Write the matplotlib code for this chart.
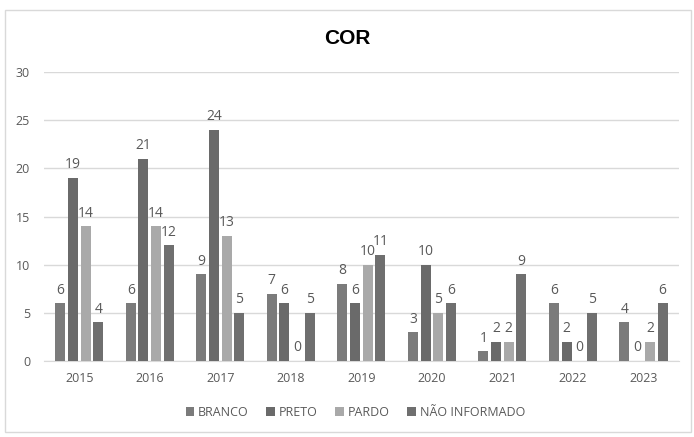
import numpy as np
from matplotlib import pyplot as plt
from matplotlib.patches import Rectangle

anos = ["2015", "2016", "2017", "2018", "2019", "2020", "2021", "2022", "2023"]
branco = [6, 6, 9, 7, 8, 3, 1, 6, 4]
preto = [19, 21, 24, 6, 6, 10, 2, 2, 0]
pardo = [14, 14, 13, 0, 10, 5, 2, 0, 2]
nao_informado = [4, 12, 5, 5, 11, 6, 9, 5, 6]

series = {
    "BRANCO": (branco, "#7b7b7b"),
    "PRETO": (preto, "#6a6a6a"),
    "PARDO": (pardo, "#a9a9a9"),
    "NÃO INFORMADO": (nao_informado, "#6f6f6f"),
}

plt.rcParams["font.family"] = ["Open Sans", "DejaVu Sans"]
cinza = "#595959"

fig = plt.figure(figsize=(6.94, 4.37), dpi=100)
ax = fig.add_axes([0.0634, 0.174, 0.9146, 0.661])

# moldura do grafico
fig.patches.append(Rectangle((5 / 694, 1 - 432 / 437), 686 / 694, 422 / 437,
                             transform=fig.transFigure, fill=False,
                             edgecolor="#d9d9d9", linewidth=1))

x = np.arange(len(anos))
largura = 0.142
passo = 0.18
for i, (nome, (valores, cor)) in enumerate(series.items()):
    pos = x + (i - 1.5) * passo
    barras = ax.bar(pos, valores, width=largura, color=cor, label=nome, zorder=3)
    for b, v in zip(barras, valores):
        ax.annotate(str(v), (b.get_x() + b.get_width() / 2, v),
                    xytext=(0, 4), textcoords="offset points",
                    ha="center", va="bottom", fontsize=10, color=cinza)

ax.set_xlim(-0.5, len(anos) - 0.5)
ax.set_ylim(0, 30)
ax.set_yticks(range(0, 31, 5))
ax.set_xticks(x)
ax.set_xticklabels(anos)
ax.grid(axis="y", color="#d9d9d9", linewidth=1, zorder=0)
for lado in ["top", "right", "left"]:
    ax.spines[lado].set_visible(False)
ax.spines["bottom"].set_color("#d9d9d9")
ax.tick_params(axis="both", length=0, labelsize=9, labelcolor=cinza)
ax.tick_params(axis="x", pad=8)
ax.tick_params(axis="y", pad=10)

fig.text(0.5, 1 - 38 / 437, "COR", ha="center", va="center",
         fontsize=15, fontweight="bold", family="Liberation Sans")

fig.legend(loc="center", bbox_to_anchor=(0.512, 1 - 412 / 437), ncol=4,
           frameon=False, fontsize=9, labelcolor=cinza, handlelength=0.7,
           handleheight=0.7, handletextpad=0.3, columnspacing=1.4)

plt.savefig("out.png", dpi=100)
